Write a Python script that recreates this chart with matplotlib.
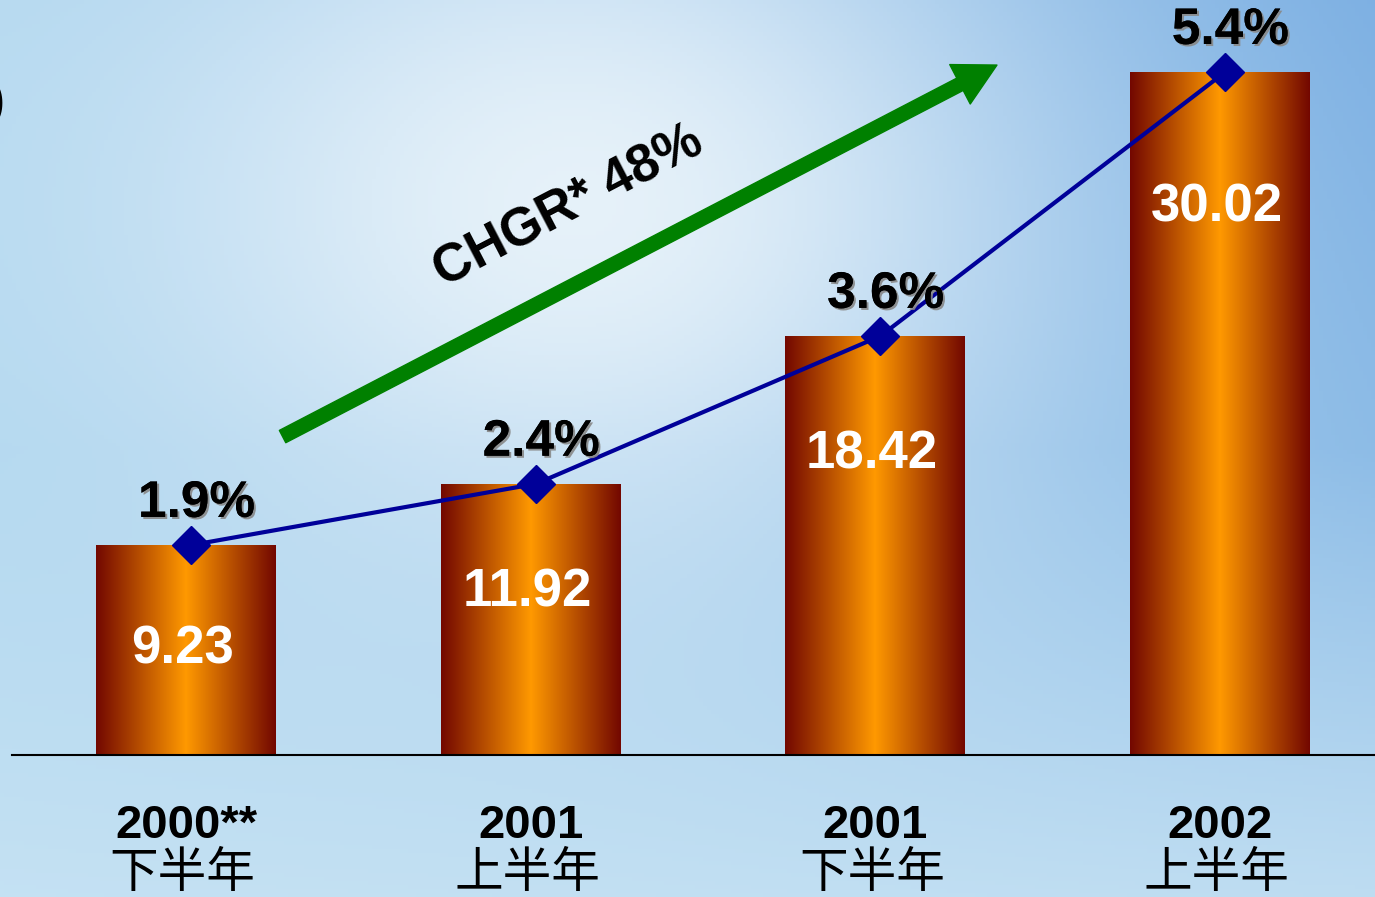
import numpy as np
import matplotlib
matplotlib.use('Agg')
import matplotlib.pyplot as plt
from matplotlib.colors import LinearSegmentedColormap
from matplotlib.patches import FancyArrowPatch, ArrowStyle
import matplotlib.patheffects as pe

plt.rcParams['font.family'] = ['Liberation Sans', 'Noto Sans CJK SC', 'DejaVu Sans']

# datos
anios = ['2000**', '2001', '2001', '2002']
semestres = ['下半年', '上半年', '下半年', '上半年']
valores = [9.23, 11.92, 18.42, 30.02]
crecimiento = ['1.9%', '2.4%', '3.6%', '5.4%']
texto_flecha = 'CHGR* 48%'

W, H = 1375, 897
fig = plt.figure(figsize=(W / 100, H / 100), dpi=100)

# fondo tipo cielo
fondo = fig.add_axes([0, 0, 1, 1])
yy, xx = np.mgrid[0:H:4, 0:W:4]
fx = xx / W
fy = yy / H
izq = np.array([175, 214, 239]) / 255
der = np.array([122, 174, 226]) / 255
abajo = np.array([205, 230, 245]) / 255
t = np.clip(fx * (1 - 0.6 * fy), 0, 1)[..., None]
base = izq * (1 - t) + der * t
tb = np.clip((fy - 0.5) / 0.5, 0, 1)[..., None] * 0.7
base = base * (1 - tb) + abajo * tb
claro = np.array([238, 246, 251]) / 255
w = np.exp(-((xx - 580) ** 2 / (2 * 330 ** 2) + (yy - 200) ** 2 / (2 * 260 ** 2)))[..., None] * 0.9
img = base * (1 - w) + claro * w
fondo.imshow(img, extent=[0, W, H, 0], aspect='auto')
fondo.axis('off')

ax = fig.add_axes([0, 0, 1, 1])
ax.patch.set_alpha(0)
ax.axis('off')

x = np.arange(len(valores))
ancho = 0.522
cmap = LinearSegmentedColormap.from_list('barra', [
    (0.0, (0.45, 0.03, 0.0)),
    (0.5, (1.0, 0.6, 0.0)),
    (1.0, (0.45, 0.03, 0.0)),
])
grad = np.linspace(0, 1, 256).reshape(1, -1)
barras = ax.bar(x, valores, width=ancho, color='none', zorder=2)
for b in barras:
    bx, by = b.get_x(), b.get_y()
    im = ax.imshow(grad, cmap=cmap, extent=[bx, bx + b.get_width(), by, by + b.get_height()],
                   aspect='auto', zorder=2)
    im.set_clip_path(b)
ax.set_xlim(-0.54, 3.45)
ax.set_ylim(-6.24, 33.19)

# linea base
ax.axhline(0, xmin=0.009, xmax=1, color='black', lw=1.5, zorder=3)

# linea de crecimiento
ax.plot(x + 0.015, valores, color='#000099', lw=3, zorder=4,
        marker='D', markersize=19, markerfacecolor='#000099', markeredgecolor='#000099')

sombra = [pe.withSimplePatchShadow(offset=(1.5, -1.5), shadow_rgbFace='#888888', alpha=0.9), pe.Normal()]
for i, v in enumerate(valores):
    ax.text(x[i] - 0.01, v - (4.0 + 0.065 * v), f'{v:.2f}', color='white', fontsize=38,
            fontweight='bold', ha='center', va='center', zorder=5)
    ax.annotate(crecimiento[i], (x[i] + 0.03, v), xytext=(0, 30), textcoords='offset points',
                ha='center', va='center', fontsize=37, fontweight='bold', color='black',
                path_effects=sombra, zorder=5)
    ax.text(x[i], -3.1, anios[i], ha='center', va='center', fontsize=34, fontweight='bold')
    ax.text(x[i] - 0.01, -5.2, semestres[i], ha='center', va='center', fontsize=35,
            family=['Noto Sans CJK SC', 'DejaVu Sans'])

# flecha verde
flecha = FancyArrowPatch((0.28, 14.0), (2.353, 30.33),
                         arrowstyle=ArrowStyle.Simple(head_length=1.5, head_width=1.6, tail_width=0.5),
                         mutation_scale=20, color='#008000', shrinkA=0, shrinkB=0, zorder=3)
ax.add_patch(flecha)
ax.text(1.11, 24.1, texto_flecha, rotation=27.5, rotation_mode='anchor', ha='center', va='center',
        fontsize=38, fontweight='bold', zorder=5)

fig.text(-0.008, 0.885, ')', fontsize=34, fontweight='bold', ha='left', va='center')

fig.savefig('out.png', dpi=100)
